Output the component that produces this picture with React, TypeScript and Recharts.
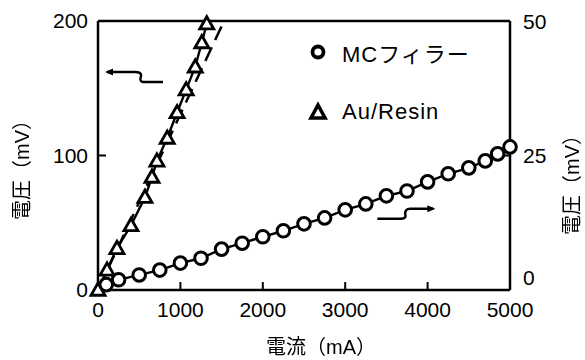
import React from "react";
import {
  LineChart,
  Line,
  XAxis,
  YAxis,
  ReferenceLine,
  ReferenceDot,
} from "recharts";

// 電流 (mA) / 電圧 (mV)
const mcCurrent = [100, 250, 500, 750, 1000, 1250, 1500, 1750, 2000, 2250, 2500, 2750, 3000, 3250, 3500, 3750, 4000, 4250, 4500, 4700, 4850, 5000];
const mcVoltage = [1.0, 1.9, 2.8, 3.7, 5.0, 5.9, 7.6, 8.7, 9.9, 11.0, 12.3, 13.4, 14.9, 16.0, 17.5, 18.4, 20.1, 21.6, 22.7, 24.0, 25.3, 26.6];

const auCurrent = [0, 110, 230, 400, 570, 655, 715, 840, 960, 1070, 1180, 1260, 1320];
const auVoltage = [0, 15, 31, 48, 69, 84, 96, 113, 132, 149, 166, 184, 198];

const dashCurrent = [0, 1530];
const dashVoltage = [0, 200];

const xTicks = [0, 1000, 2000, 3000, 4000, 5000];
const leftTicks = [0, 100, 200];
const rightTicks = [0, 25, 50];

const seriesNames = ["MCフィラー", "Au/Resin"];
const xTitle = "電流（mA）";
const yTitle = "電圧（mV）";

const mcData = mcCurrent.map((x, i) => ({ x, y: mcVoltage[i] }));
const auData = auCurrent.map((x, i) => ({ x, y: auVoltage[i] }));
const dashData = dashCurrent.map((x, i) => ({ x, y: dashVoltage[i] }));

const FONT = "'Liberation Sans', Arial, 'Noto Sans CJK JP', sans-serif";
const INK = "#000000";

const CircleDot = (props: any) => {
  const { cx, cy, index } = props;
  if (cx == null || cy == null) return null;
  return <circle key={index} cx={cx} cy={cy} r={6.3} fill="#fff" stroke={INK} strokeWidth={3} />;
};

const TriangleDot = (props: any) => {
  const { cx, cy, index } = props;
  if (cx == null || cy == null) return null;
  const s = 7;
  const d = `M${cx},${cy - s} L${cx + s},${cy + s * 0.75} L${cx - s},${cy + s * 0.75} Z`;
  return <path key={index} d={d} fill="#fff" stroke={INK} strokeWidth={2.8} strokeLinejoin="miter" />;
};

// squiggly arrow pointing at the left axis (tip at cx, cy)
const LeftArrow = (props: any) => {
  const { cx, cy } = props;
  return (
    <g transform={`translate(${cx},${cy})`}>
      <path d="M2,0 L30,0 Q37,0 36,4 Q34,9 38,10 L58,10" fill="none" stroke={INK} strokeWidth={2.5} />
      <path d="M0,0 L8,-3.5 L8,3.5 Z" fill={INK} />
    </g>
  );
};

// squiggly arrow pointing at the right axis (tail at cx, cy)
const RightArrow = (props: any) => {
  const { cx, cy } = props;
  return (
    <g transform={`translate(${cx},${cy})`}>
      <path d="M0,0 L24,0 Q29,0 28,-4 Q27,-10 33,-10 L56,-10" fill="none" stroke={INK} strokeWidth={2.5} />
      <path d="M58,-10 L50,-13.5 L50,-6.5 Z" fill={INK} />
    </g>
  );
};

const RightTick = (props: any) => {
  const { x, y, payload } = props;
  const dy = payload.value === 0 ? -13 : 0;
  return (
    <text x={x} y={y + dy} dominantBaseline="central" textAnchor="start" fontSize={21} fontFamily={FONT} fill={INK}>
      {payload.value}
    </text>
  );
};

const tickStyle = { fontSize: 21, fontFamily: FONT, fill: INK };
const axisLine = { stroke: INK, strokeWidth: 2.5 };
const tickLine = { stroke: INK, strokeWidth: 2 };

// axis titles as plain text, centred on (x, y)
const Title = ({ x, y, rotate, text }: { x: number; y: number; rotate?: boolean; text: string }) => (
  <div
    style={{
      position: "absolute",
      left: x - 70,
      top: y - 11,
      width: 140,
      height: 22,
      lineHeight: "22px",
      textAlign: "center",
      fontFamily: FONT,
      fontSize: 20,
      color: INK,
      transform: rotate ? "rotate(-90deg)" : undefined,
      filter: "grayscale(100%)",
      whiteSpace: "nowrap",
    }}
  >
    {text}
  </div>
);

export default function App() {
  return (
    <div style={{ position: "absolute", left: 0, top: 0, width: 585, height: 360, background: "#fff", overflow: "hidden" }}>
      <LineChart width={585} height={360} margin={{ top: 21, right: 25, left: 38, bottom: 40 }}>
        <XAxis
          type="number"
          dataKey="x"
          domain={[0, 5000]}
          ticks={xTicks}
          height={30}
          tickSize={-8}
          tickMargin={20}
          tick={tickStyle}
          axisLine={axisLine}
          tickLine={tickLine}
          interval={0}
        />
        <YAxis
          yAxisId="left"
          type="number"
          domain={[0, 200]}
          ticks={leftTicks}
          width={60}
          tickSize={-8}
          tickMargin={18}
          tick={tickStyle}
          axisLine={axisLine}
          tickLine={tickLine}
          interval={0}
        />
        <YAxis
          yAxisId="right"
          orientation="right"
          type="number"
          domain={[0, 50]}
          ticks={rightTicks}
          width={50}
          tickSize={-8}
          tickMargin={21}
          tick={<RightTick />}
          axisLine={axisLine}
          tickLine={tickLine}
          interval={0}
        />
        <ReferenceLine yAxisId="left" y={200} stroke={INK} strokeWidth={2.5} />
        <Line
          yAxisId="left"
          data={dashData}
          dataKey="y"
          stroke={INK}
          strokeWidth={2.5}
          strokeDasharray="15 8"
          dot={false}
          isAnimationActive={false}
          type="linear"
        />
        <Line
          yAxisId="left"
          data={auData}
          dataKey="y"
          name={seriesNames[1]}
          stroke={INK}
          strokeWidth={2.4}
          dot={<TriangleDot />}
          isAnimationActive={false}
          type="linear"
        />
        <Line
          yAxisId="right"
          data={mcData}
          dataKey="y"
          name={seriesNames[0]}
          stroke={INK}
          strokeWidth={2.4}
          dot={<CircleDot />}
          isAnimationActive={false}
          type="linear"
        />
        <ReferenceDot yAxisId="left" x={85} y={162} r={0} shape={<LeftArrow />} />
        <ReferenceDot yAxisId="left" x={3390} y={53} r={0} shape={<RightArrow />} />
      </LineChart>
      <Title x={321} y={347} text={xTitle} />
      <Title x={22} y={165} rotate text={yTitle} />
      <Title x={572} y={180} rotate text={yTitle} />
      <div style={{ position: "absolute", left: 308, top: 38, fontFamily: FONT, fontSize: 22, color: INK, letterSpacing: 1 }}>
        <div style={{ display: "flex", alignItems: "center", height: 28 }}>
          <svg width={22} height={22} style={{ marginRight: 12 }}>
            <circle cx={10} cy={11} r={5.5} fill="#fff" stroke={INK} strokeWidth={3.8} />
          </svg>
          <span>{seriesNames[0]}</span>
        </div>
        <div style={{ display: "flex", alignItems: "center", height: 28, marginTop: 32 }}>
          <svg width={22} height={22} style={{ marginRight: 12 }}>
            <path d="M10,4 L17,17 L3,17 Z" fill="#fff" stroke={INK} strokeWidth={3.6} strokeLinejoin="miter" />
          </svg>
          <span>{seriesNames[1]}</span>
        </div>
      </div>
    </div>
  );
}
